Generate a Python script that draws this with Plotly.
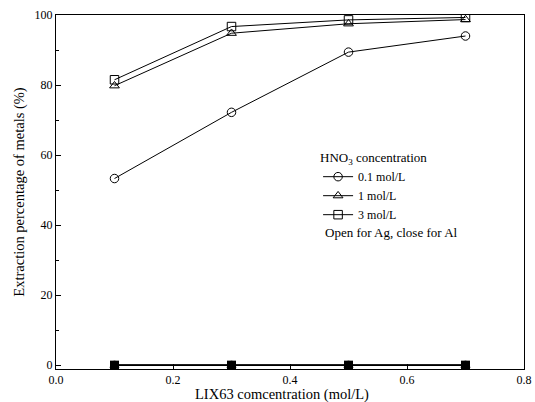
import plotly.graph_objects as go

lix = [0.1, 0.3, 0.5, 0.7]
ag_01 = [53.3, 72.2, 89.4, 94.0]
ag_1 = [79.8, 94.8, 97.5, 98.7]
ag_3 = [81.5, 96.7, 98.6, 99.3]
al_01 = [0.0, 0.0, 0.0, 0.0]
al_1 = [0.0, 0.0, 0.0, 0.0]
al_3 = [0.0, 0.0, 0.0, 0.0]
labels = ["0.1 mol/L", "1 mol/L", "3 mol/L"]
symbols = ["circle", "triangle-up", "square"]

FONT = "Liberation Serif"
fig = go.Figure()

for vals, sym, lab in zip([ag_01, ag_1, ag_3], symbols, labels):
    fig.add_trace(go.Scatter(
        x=lix, y=vals, mode="lines+markers", name=lab,
        line=dict(color="black", width=1),
        marker=dict(symbol=sym + "-open", size=8.5, color="black", line=dict(width=1, color="black")),
    ))
for vals, sym in zip([al_01, al_1, al_3], symbols):
    fig.add_trace(go.Scatter(
        x=lix, y=vals, mode="lines+markers", showlegend=False,
        line=dict(color="black", width=1.5),
        marker=dict(symbol=sym, size=9, color="black"),
    ))

fig.update_layout(
    width=535, height=402,
    margin=dict(l=55.5, r=11, t=15, b=33),
    paper_bgcolor="white", plot_bgcolor="white",
    font=dict(family=FONT, size=12, color="black"),
    legend=dict(
        x=0.56, y=0.632, xanchor="left", yanchor="top",
        bgcolor="rgba(0,0,0,0)", font=dict(family=FONT, size=12),
        title=dict(text="HNO<sub>3</sub> concentration", font=dict(family=FONT, size=13)),
        tracegroupgap=0, itemwidth=30,
    ),
    showlegend=True,
)
fig.add_annotation(
    x=0.571, y=0.3845, xref="paper", yref="paper", xanchor="left", yanchor="middle",
    text="Open for Ag, close for Al", showarrow=False, font=dict(family=FONT, size=13),
)
fig.add_annotation(
    x=0.4835, y=-0.073, xref="paper", yref="paper", xanchor="center", yanchor="middle",
    text="LIX63 comcentration (mol/L)", showarrow=False, font=dict(family=FONT, size=14.5),
)
fig.update_xaxes(
    range=[0, 0.8], dtick=0.2, tickformat=".1f", automargin=False,
    showline=True, linecolor="black", linewidth=1, mirror=True,
    ticks="inside", ticklen=5, tickcolor="black", showgrid=False, zeroline=False,
    minor=dict(dtick=0.1, ticks="inside", ticklen=3, tickcolor="black", showgrid=False),
    tickfont=dict(family=FONT, size=12),
)
fig.update_yaxes(
    range=[-1.1, 100], tick0=0, dtick=20, automargin=False,
    showline=True, linecolor="black", linewidth=1, mirror=True,
    ticks="inside", ticklen=5, tickcolor="black", showgrid=False, zeroline=False,
    minor=dict(tick0=0, dtick=10, ticks="inside", ticklen=3, tickcolor="black", showgrid=False),
    title=dict(text="Extraction percentage of metals (%)", font=dict(family=FONT, size=14.5), standoff=6),
    tickfont=dict(family=FONT, size=12),
)
fig.write_html("out.html", config={"displayModeBar": False},
               post_script="document.body.style.margin='0';")
